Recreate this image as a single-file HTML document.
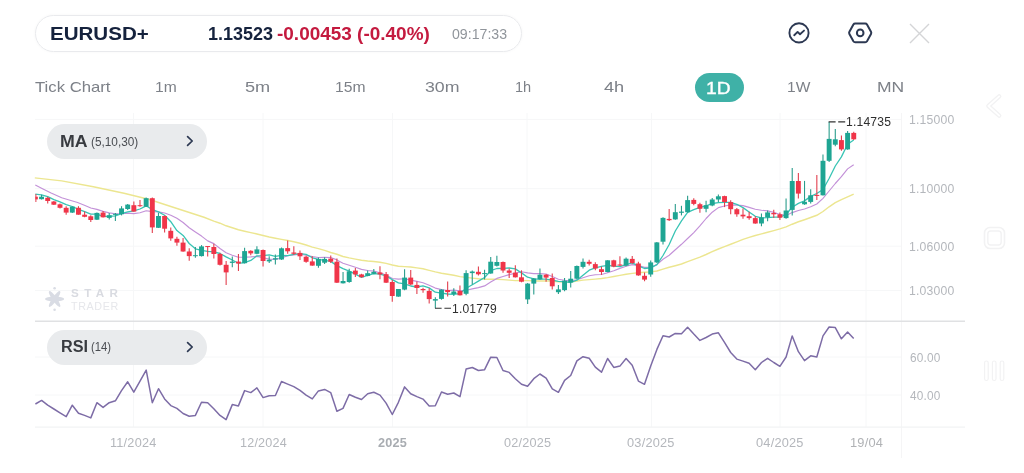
<!DOCTYPE html>
<html><head><meta charset="utf-8"><title>EURUSD+</title>
<style>
html,body{margin:0;padding:0;background:#fff;}
body{width:1024px;height:473px;position:relative;overflow:hidden;font-family:"Liberation Sans",sans-serif;}
.t{position:absolute;white-space:nowrap;line-height:1;transform-origin:0 50%;}
#txt{position:absolute;left:0;top:0;width:1024px;height:473px;will-change:transform;}
.pill{position:absolute;left:35px;top:15px;width:485px;height:35px;border:1px solid #e9eaed;border-radius:19px;box-shadow:0 0 3px rgba(0,0,0,0.045);}
.ind{position:absolute;left:47px;width:160px;height:35px;border-radius:18px;background:#e9ebed;}
.tf{color:#7d8188;font-size:14.5px;}
.ax{color:#b4b7bc;font-size:12px;letter-spacing:0.2px;}
#chart{position:absolute;left:0;top:0;}
</style></head><body>
<svg id="chart" width="1024" height="473" viewBox="0 0 1024 473">
<line x1="35" x2="901.5" y1="119.4" y2="119.4" stroke="#f6f7f8" stroke-width="1"/>
<line x1="35" x2="901.5" y1="188.7" y2="188.7" stroke="#f6f7f8" stroke-width="1"/>
<line x1="35" x2="901.5" y1="246.2" y2="246.2" stroke="#f6f7f8" stroke-width="1"/>
<line x1="35" x2="901.5" y1="290.5" y2="290.5" stroke="#f6f7f8" stroke-width="1"/>
<line x1="35" x2="901.5" y1="357" y2="357" stroke="#f6f7f8" stroke-width="1"/>
<line x1="35" x2="901.5" y1="395" y2="395" stroke="#f6f7f8" stroke-width="1"/>
<line x1="133.5" x2="133.5" y1="113" y2="427" stroke="#f6f7f8" stroke-width="1"/>
<line x1="263" x2="263" y1="113" y2="427" stroke="#f6f7f8" stroke-width="1"/>
<line x1="392.5" x2="392.5" y1="113" y2="427" stroke="#f6f7f8" stroke-width="1"/>
<line x1="527" x2="527" y1="113" y2="427" stroke="#f6f7f8" stroke-width="1"/>
<line x1="651.5" x2="651.5" y1="113" y2="427" stroke="#f6f7f8" stroke-width="1"/>
<line x1="780" x2="780" y1="113" y2="427" stroke="#f6f7f8" stroke-width="1"/>
<line x1="866" x2="866" y1="113" y2="427" stroke="#f6f7f8" stroke-width="1"/>
<line x1="901.5" x2="901.5" y1="113" y2="458" stroke="#f5f5f6" stroke-width="1"/>
<line x1="35" x2="965" y1="427.2" y2="427.2" stroke="#f2f3f4" stroke-width="1.2"/>
<line x1="35" x2="965" y1="321.2" y2="321.2" stroke="#e0e1e3" stroke-width="1.6"/>
<polyline fill="none" stroke="#ece690" stroke-width="1.45" stroke-linejoin="round" points="34.8,177.9 61.7,180.9 93.4,186.7 124.0,193.2 149.4,199.5 174.7,207.7 204.0,217.3 213.8,221.1 220.0,223.2 226.1,225.8 232.3,227.8 238.4,229.8 244.6,231.2 250.8,232.6 256.9,234.0 263.1,235.5 269.2,237.0 275.4,238.2 281.5,239.4 287.7,240.5 293.8,241.8 300.0,243.2 306.1,245.0 312.3,247.1 318.4,248.6 324.6,250.4 330.7,252.5 336.9,254.3 343.0,256.5 349.2,257.9 355.4,259.1 361.5,260.3 367.7,261.0 373.8,261.5 380.0,262.2 386.1,263.4 392.3,265.0 398.4,266.2 404.6,266.6 410.7,267.0 416.9,267.9 423.0,268.8 429.2,270.4 435.3,271.9 441.5,273.2 447.7,274.3 453.8,275.3 460.0,276.6 466.1,277.4 472.3,278.1 478.4,278.8 484.6,279.3 490.7,279.3 496.9,279.2 503.0,279.6 509.2,280.1 515.3,280.6 521.5,280.5 527.6,280.6 533.8,280.9 539.9,280.9 546.1,280.9 552.3,281.3 558.4,281.9 564.6,282.1 570.7,282.0 576.9,281.0 583.0,280.1 589.2,279.6 595.3,279.1 601.5,278.5 607.6,277.6 613.8,276.5 619.9,275.4 626.1,274.3 632.2,273.4 638.4,272.8 644.5,272.3 650.7,271.9 656.9,271.0 663.0,269.1 669.2,267.3 675.3,265.7 681.5,264.0 687.6,261.6 693.8,259.4 699.9,257.1 706.1,254.5 712.2,251.7 718.4,249.0 724.5,246.6 730.7,244.3 736.8,241.9 743.0,239.4 749.1,237.4 755.3,235.5 761.5,233.9 767.6,232.2 773.8,230.6 779.9,228.9 786.1,226.9 792.2,224.2 798.4,221.8 804.5,219.7 810.7,217.5 816.8,215.3 823.0,211.5 829.1,206.8 835.3,202.7 841.4,199.6 847.6,196.8 853.7,194.1"/>
<polyline fill="none" stroke="#c391d8" stroke-width="1.15" stroke-linejoin="round" points="35.3,185.1 43.0,189.0 51.1,193.0 61.7,197.8 70.0,200.3 77.6,202.5 85.0,205.5 90.8,208.0 96.9,209.4 103.1,211.4 109.2,212.9 115.4,213.8 121.5,213.8 127.7,213.1 133.8,213.6 140.0,212.7 146.2,210.8 152.3,211.6 158.5,211.9 164.6,213.0 170.8,215.3 176.9,218.2 183.1,222.5 189.2,227.7 195.4,232.0 201.5,236.1 207.7,240.9 213.8,243.6 220.0,248.5 226.1,252.8 232.3,255.2 238.4,257.3 244.6,257.2 250.8,256.9 256.9,256.4 263.1,257.8 269.2,259.1 275.4,259.5 281.5,257.9 287.7,255.8 293.8,255.0 300.0,254.3 306.1,255.3 312.3,256.6 318.4,257.5 324.6,257.3 330.7,257.5 336.9,259.9 343.0,263.2 349.2,265.2 355.4,267.3 361.5,269.4 367.7,270.5 373.8,271.1 380.0,272.7 386.1,275.1 392.3,278.5 398.4,279.1 404.6,278.8 410.7,280.1 416.9,281.4 423.0,282.8 429.2,285.3 435.3,288.1 441.5,289.6 447.7,290.5 453.8,290.1 460.0,290.7 466.1,290.2 472.3,288.9 478.4,287.6 484.6,285.9 490.7,282.1 496.9,278.4 503.0,276.5 509.2,274.6 515.3,273.2 521.5,271.8 527.6,272.9 533.8,273.6 539.9,273.6 546.1,274.0 552.3,276.5 558.4,279.2 564.6,280.2 570.7,280.8 576.9,279.7 583.0,277.7 589.2,275.7 595.3,274.7 601.5,274.5 607.6,272.7 613.8,270.8 619.9,268.4 626.1,266.2 632.2,264.6 638.4,265.6 644.5,267.4 650.7,267.2 656.9,264.6 663.0,259.2 669.2,255.2 675.3,249.8 681.5,244.3 687.6,238.5 693.8,232.6 699.9,225.9 706.1,218.5 712.2,212.2 718.4,207.6 724.5,206.0 730.7,204.9 736.8,205.1 743.0,205.6 749.1,207.4 755.3,209.3 761.5,210.2 767.6,210.9 773.8,212.4 779.9,214.5 786.1,215.4 792.2,212.6 798.4,210.5 804.5,209.0 810.7,206.8 816.8,204.0 823.0,198.3 829.1,191.0 835.3,183.5 841.4,176.7 847.6,168.9 853.7,164.7"/>
<polyline fill="none" stroke="#38c4b4" stroke-width="1.3" stroke-linejoin="round" points="35.3,194.1 41.5,194.8 47.7,196.6 53.9,199.6 60.0,201.9 66.2,204.6 72.3,206.5 78.5,209.3 84.6,211.7 90.8,214.1 96.9,214.2 103.1,216.3 109.2,216.4 115.4,215.9 121.5,213.6 127.7,211.9 133.8,210.8 140.0,209.0 146.2,205.8 152.3,209.6 158.5,211.9 164.6,215.3 170.8,221.7 176.9,230.6 183.1,235.4 189.2,243.5 195.4,248.8 201.5,250.4 207.7,251.3 213.8,251.8 220.0,253.5 226.1,256.9 232.3,260.0 238.4,263.3 244.6,262.7 250.8,260.4 256.9,255.8 263.1,255.7 269.2,254.9 275.4,256.4 281.5,255.3 287.7,255.7 293.8,254.3 300.0,253.6 306.1,254.3 312.3,257.8 318.4,259.3 324.6,260.3 330.7,261.4 336.9,265.6 343.0,268.6 349.2,271.1 355.4,274.2 361.5,277.3 367.7,275.4 373.8,273.6 380.0,274.2 386.1,275.9 392.3,279.6 398.4,282.8 404.6,283.9 410.7,286.0 416.9,287.0 423.0,285.9 429.2,287.9 435.3,292.2 441.5,293.2 447.7,294.0 453.8,294.3 460.0,293.5 466.1,288.3 472.3,284.7 478.4,281.1 484.6,277.5 490.7,270.7 496.9,268.5 503.0,268.3 509.2,268.0 515.3,268.9 521.5,272.9 527.6,277.2 533.8,278.8 539.9,279.2 546.1,279.2 552.3,280.1 558.4,281.3 564.6,281.7 570.7,282.5 576.9,280.2 583.0,275.3 589.2,270.2 595.3,267.8 601.5,266.4 607.6,265.3 613.8,266.2 619.9,266.6 626.1,264.6 632.2,262.9 638.4,265.9 644.5,268.5 650.7,267.8 656.9,264.6 663.0,255.5 669.2,244.5 675.3,231.0 681.5,220.9 687.6,212.4 693.8,209.6 699.9,207.3 706.1,205.9 712.2,203.5 718.4,202.7 724.5,202.4 730.7,202.4 736.8,204.3 743.0,207.6 749.1,212.0 755.3,216.3 761.5,217.9 767.6,217.6 773.8,217.1 779.9,217.1 786.1,214.5 792.2,207.2 798.4,203.4 804.5,200.9 810.7,196.4 816.8,193.5 823.0,189.5 829.1,178.5 835.3,166.0 841.4,156.9 847.6,144.3 853.7,140.0"/>
<line x1="35.90" x2="35.90" y1="194.1" y2="202.0" stroke="#e2404f" stroke-width="1"/>
<rect x="35.40" y="196.7" width="2.45" height="2.70" fill="#f03549"/>
<line x1="41.55" x2="41.55" y1="194.8" y2="199.4" stroke="#2a9d8c" stroke-width="1.1"/>
<rect x="39.10" y="196.7" width="4.9" height="2.50" fill="#1ea593"/>
<line x1="47.71" x2="47.71" y1="196.7" y2="203.6" stroke="#e2404f" stroke-width="1.1"/>
<rect x="45.26" y="197.8" width="4.9" height="3.20" fill="#f03549"/>
<line x1="53.86" x2="53.86" y1="201.0" y2="204.9" stroke="#e2404f" stroke-width="1.1"/>
<rect x="51.41" y="201.5" width="4.9" height="3.20" fill="#f03549"/>
<line x1="60.01" x2="60.01" y1="203.6" y2="208.4" stroke="#e2404f" stroke-width="1.1"/>
<rect x="57.56" y="204.3" width="4.9" height="3.50" fill="#f03549"/>
<line x1="66.16" x2="66.16" y1="206.2" y2="214.7" stroke="#e2404f" stroke-width="1.1"/>
<rect x="63.71" y="207.8" width="4.9" height="4.80" fill="#f03549"/>
<line x1="72.32" x2="72.32" y1="206.6" y2="212.9" stroke="#2a9d8c" stroke-width="1.1"/>
<rect x="69.87" y="206.6" width="4.9" height="6.00" fill="#1ea593"/>
<line x1="78.47" x2="78.47" y1="206.2" y2="214.7" stroke="#e2404f" stroke-width="1.1"/>
<rect x="76.02" y="207.8" width="4.9" height="6.90" fill="#f03549"/>
<line x1="84.62" x2="84.62" y1="211.5" y2="217.3" stroke="#e2404f" stroke-width="1.1"/>
<rect x="82.17" y="214.7" width="4.9" height="2.10" fill="#f03549"/>
<line x1="90.78" x2="90.78" y1="215.2" y2="222.1" stroke="#e2404f" stroke-width="1.1"/>
<rect x="88.33" y="216.3" width="4.9" height="3.70" fill="#f03549"/>
<line x1="96.93" x2="96.93" y1="212.6" y2="220.0" stroke="#2a9d8c" stroke-width="1.1"/>
<rect x="94.48" y="212.9" width="4.9" height="6.80" fill="#1ea593"/>
<line x1="103.08" x2="103.08" y1="211.0" y2="217.5" stroke="#e2404f" stroke-width="1.1"/>
<rect x="100.63" y="212.6" width="4.9" height="4.70" fill="#f03549"/>
<line x1="109.24" x2="109.24" y1="213.1" y2="219.5" stroke="#2a9d8c" stroke-width="1.1"/>
<rect x="106.79" y="215.2" width="4.9" height="2.70" fill="#1ea593"/>
<line x1="115.39" x2="115.39" y1="213.1" y2="221.0" stroke="#2a9d8c" stroke-width="1.1"/>
<rect x="112.94" y="213.85" width="4.9" height="1.00" fill="#1ea593"/>
<line x1="121.54" x2="121.54" y1="206.2" y2="215.4" stroke="#2a9d8c" stroke-width="1.1"/>
<rect x="119.09" y="208.4" width="4.9" height="5.80" fill="#1ea593"/>
<line x1="127.69" x2="127.69" y1="204.0" y2="210.0" stroke="#2a9d8c" stroke-width="1.1"/>
<rect x="125.24" y="204.6" width="4.9" height="4.40" fill="#1ea593"/>
<line x1="133.85" x2="133.85" y1="201.4" y2="211.8" stroke="#e2404f" stroke-width="1.1"/>
<rect x="131.40" y="205.2" width="4.9" height="6.40" fill="#f03549"/>
<line x1="140.00" x2="140.00" y1="200.1" y2="206.7" stroke="#e2404f" stroke-width="1.1"/>
<rect x="137.55" y="205.2" width="4.9" height="1.00" fill="#f03549"/>
<line x1="146.15" x2="146.15" y1="197.4" y2="207.1" stroke="#2a9d8c" stroke-width="1.1"/>
<rect x="143.70" y="198.2" width="4.9" height="8.50" fill="#1ea593"/>
<line x1="152.31" x2="152.31" y1="197.4" y2="233.1" stroke="#e2404f" stroke-width="1.1"/>
<rect x="149.86" y="198.2" width="4.9" height="29.20" fill="#f03549"/>
<line x1="158.46" x2="158.46" y1="212.8" y2="228.0" stroke="#2a9d8c" stroke-width="1.1"/>
<rect x="156.01" y="216.0" width="4.9" height="11.80" fill="#1ea593"/>
<line x1="164.61" x2="164.61" y1="215.4" y2="232.5" stroke="#e2404f" stroke-width="1.1"/>
<rect x="162.16" y="216.0" width="4.9" height="12.70" fill="#f03549"/>
<line x1="170.77" x2="170.77" y1="227.4" y2="240.7" stroke="#e2404f" stroke-width="1.1"/>
<rect x="168.32" y="230.8" width="4.9" height="7.60" fill="#f03549"/>
<line x1="176.92" x2="176.92" y1="236.7" y2="245.8" stroke="#e2404f" stroke-width="1.1"/>
<rect x="174.47" y="238.8" width="4.9" height="3.80" fill="#f03549"/>
<line x1="183.07" x2="183.07" y1="238.1" y2="251.8" stroke="#e2404f" stroke-width="1.1"/>
<rect x="180.62" y="242.6" width="4.9" height="8.90" fill="#f03549"/>
<line x1="189.22" x2="189.22" y1="248.3" y2="260.7" stroke="#e2404f" stroke-width="1.1"/>
<rect x="186.78" y="251.5" width="4.9" height="4.60" fill="#f03549"/>
<line x1="195.38" x2="195.38" y1="247.0" y2="257.8" stroke="#2a9d8c" stroke-width="1.1"/>
<rect x="192.93" y="255.20000000000002" width="4.9" height="1.00" fill="#1ea593"/>
<line x1="201.53" x2="201.53" y1="245.1" y2="256.5" stroke="#2a9d8c" stroke-width="1.1"/>
<rect x="199.08" y="246.4" width="4.9" height="9.70" fill="#1ea593"/>
<line x1="207.68" x2="207.68" y1="246.1" y2="256.5" stroke="#e2404f" stroke-width="1.1"/>
<rect x="205.23" y="246.05" width="4.9" height="1.00" fill="#f03549"/>
<line x1="213.84" x2="213.84" y1="243.8" y2="258.4" stroke="#e2404f" stroke-width="1.1"/>
<rect x="211.39" y="247.0" width="4.9" height="7.00" fill="#f03549"/>
<line x1="219.99" x2="219.99" y1="252.7" y2="265.4" stroke="#e2404f" stroke-width="1.1"/>
<rect x="217.54" y="254.0" width="4.9" height="10.80" fill="#f03549"/>
<line x1="226.14" x2="226.14" y1="261.0" y2="285.0" stroke="#e2404f" stroke-width="1.1"/>
<rect x="223.69" y="264.8" width="4.9" height="7.60" fill="#f03549"/>
<line x1="232.30" x2="232.30" y1="256.5" y2="267.3" stroke="#2a9d8c" stroke-width="1.1"/>
<rect x="229.85" y="261.6" width="4.9" height="1.30" fill="#1ea593"/>
<line x1="238.45" x2="238.45" y1="254.0" y2="271.1" stroke="#e2404f" stroke-width="1.1"/>
<rect x="236.00" y="261.6" width="4.9" height="1.90" fill="#f03549"/>
<line x1="244.60" x2="244.60" y1="247.7" y2="263.5" stroke="#2a9d8c" stroke-width="1.1"/>
<rect x="242.15" y="251.1" width="4.9" height="12.10" fill="#1ea593"/>
<line x1="250.75" x2="250.75" y1="250.2" y2="255.3" stroke="#e2404f" stroke-width="1.1"/>
<rect x="248.31" y="250.8" width="4.9" height="2.60" fill="#f03549"/>
<line x1="256.91" x2="256.91" y1="246.2" y2="254.2" stroke="#2a9d8c" stroke-width="1.1"/>
<rect x="254.46" y="249.4" width="4.9" height="4.40" fill="#1ea593"/>
<line x1="263.06" x2="263.06" y1="249.4" y2="266.5" stroke="#e2404f" stroke-width="1.1"/>
<rect x="260.61" y="250.0" width="4.9" height="11.00" fill="#f03549"/>
<line x1="269.21" x2="269.21" y1="256.3" y2="263.0" stroke="#2a9d8c" stroke-width="1.1"/>
<rect x="266.76" y="259.8" width="4.9" height="1.60" fill="#1ea593"/>
<line x1="275.37" x2="275.37" y1="254.4" y2="264.6" stroke="#2a9d8c" stroke-width="1.1"/>
<rect x="272.92" y="258.2" width="4.9" height="1.30" fill="#1ea593"/>
<line x1="281.52" x2="281.52" y1="247.5" y2="259.9" stroke="#2a9d8c" stroke-width="1.1"/>
<rect x="279.07" y="248.3" width="4.9" height="11.20" fill="#1ea593"/>
<line x1="287.67" x2="287.67" y1="240.5" y2="253.8" stroke="#e2404f" stroke-width="1.1"/>
<rect x="285.22" y="248.1" width="4.9" height="3.20" fill="#f03549"/>
<line x1="293.83" x2="293.83" y1="246.2" y2="255.1" stroke="#e2404f" stroke-width="1.1"/>
<rect x="291.38" y="252.5" width="4.9" height="1.30" fill="#f03549"/>
<line x1="299.98" x2="299.98" y1="250.6" y2="260.1" stroke="#e2404f" stroke-width="1.1"/>
<rect x="297.53" y="252.9" width="4.9" height="3.40" fill="#f03549"/>
<line x1="306.13" x2="306.13" y1="255.7" y2="262.7" stroke="#e2404f" stroke-width="1.1"/>
<rect x="303.68" y="256.7" width="4.9" height="5.10" fill="#f03549"/>
<line x1="312.28" x2="312.28" y1="256.3" y2="265.8" stroke="#e2404f" stroke-width="1.1"/>
<rect x="309.83" y="261.4" width="4.9" height="4.20" fill="#f03549"/>
<line x1="318.44" x2="318.44" y1="257.6" y2="267.7" stroke="#2a9d8c" stroke-width="1.1"/>
<rect x="315.99" y="258.9" width="4.9" height="6.90" fill="#1ea593"/>
<line x1="324.59" x2="324.59" y1="257.2" y2="263.9" stroke="#2a9d8c" stroke-width="1.1"/>
<rect x="322.14" y="258.9" width="4.9" height="3.80" fill="#1ea593"/>
<line x1="330.74" x2="330.74" y1="255.4" y2="263.0" stroke="#e2404f" stroke-width="1.1"/>
<rect x="328.29" y="258.6" width="4.9" height="3.10" fill="#f03549"/>
<line x1="336.90" x2="336.90" y1="258.6" y2="283.0" stroke="#e2404f" stroke-width="1.1"/>
<rect x="334.45" y="261.7" width="4.9" height="21.00" fill="#f03549"/>
<line x1="343.05" x2="343.05" y1="271.9" y2="283.5" stroke="#2a9d8c" stroke-width="1.1"/>
<rect x="340.60" y="281.0" width="4.9" height="2.30" fill="#1ea593"/>
<line x1="349.20" x2="349.20" y1="268.7" y2="282.7" stroke="#2a9d8c" stroke-width="1.1"/>
<rect x="346.75" y="271.3" width="4.9" height="10.70" fill="#1ea593"/>
<line x1="355.36" x2="355.36" y1="268.1" y2="277.0" stroke="#e2404f" stroke-width="1.1"/>
<rect x="352.91" y="270.6" width="4.9" height="3.80" fill="#f03549"/>
<line x1="361.51" x2="361.51" y1="273.8" y2="277.6" stroke="#e2404f" stroke-width="1.1"/>
<rect x="359.06" y="274.4" width="4.9" height="2.80" fill="#f03549"/>
<line x1="367.66" x2="367.66" y1="270.6" y2="276.3" stroke="#2a9d8c" stroke-width="1.1"/>
<rect x="365.21" y="273.2" width="4.9" height="2.70" fill="#1ea593"/>
<line x1="373.81" x2="373.81" y1="269.1" y2="274.2" stroke="#2a9d8c" stroke-width="1.1"/>
<rect x="371.36" y="271.9" width="4.9" height="1.90" fill="#1ea593"/>
<line x1="379.97" x2="379.97" y1="266.2" y2="279.2" stroke="#e2404f" stroke-width="1.1"/>
<rect x="377.52" y="272.5" width="4.9" height="1.90" fill="#f03549"/>
<line x1="386.12" x2="386.12" y1="271.9" y2="283.0" stroke="#e2404f" stroke-width="1.1"/>
<rect x="383.67" y="274.2" width="4.9" height="8.50" fill="#f03549"/>
<line x1="392.27" x2="392.27" y1="280.1" y2="301.7" stroke="#e2404f" stroke-width="1.1"/>
<rect x="389.82" y="282.0" width="4.9" height="14.00" fill="#f03549"/>
<line x1="398.43" x2="398.43" y1="289.0" y2="296.8" stroke="#2a9d8c" stroke-width="1.1"/>
<rect x="395.98" y="289.0" width="4.9" height="7.60" fill="#1ea593"/>
<line x1="404.58" x2="404.58" y1="269.3" y2="290.2" stroke="#2a9d8c" stroke-width="1.1"/>
<rect x="402.13" y="277.6" width="4.9" height="12.00" fill="#1ea593"/>
<line x1="410.73" x2="410.73" y1="270.0" y2="285.2" stroke="#e2404f" stroke-width="1.1"/>
<rect x="408.28" y="277.6" width="4.9" height="6.90" fill="#f03549"/>
<line x1="416.89" x2="416.89" y1="281.4" y2="294.0" stroke="#e2404f" stroke-width="1.1"/>
<rect x="414.44" y="284.9" width="4.9" height="3.10" fill="#f03549"/>
<line x1="423.04" x2="423.04" y1="287.7" y2="292.8" stroke="#e2404f" stroke-width="1.1"/>
<rect x="420.59" y="289.0" width="4.9" height="1.20" fill="#f03549"/>
<line x1="429.19" x2="429.19" y1="288.3" y2="303.5" stroke="#e2404f" stroke-width="1.1"/>
<rect x="426.74" y="290.9" width="4.9" height="8.20" fill="#f03549"/>
<line x1="435.34" x2="435.34" y1="297.2" y2="308.2" stroke="#2a9d8c" stroke-width="1.1"/>
<rect x="432.89" y="299.1" width="4.9" height="1.50" fill="#1ea593"/>
<line x1="441.50" x2="441.50" y1="289.2" y2="299.7" stroke="#2a9d8c" stroke-width="1.1"/>
<rect x="439.05" y="289.6" width="4.9" height="9.30" fill="#1ea593"/>
<line x1="447.65" x2="447.65" y1="281.4" y2="296.6" stroke="#e2404f" stroke-width="1.1"/>
<rect x="445.20" y="290.0" width="4.9" height="2.10" fill="#f03549"/>
<line x1="453.80" x2="453.80" y1="288.3" y2="295.9" stroke="#2a9d8c" stroke-width="1.1"/>
<rect x="451.35" y="291.5" width="4.9" height="2.50" fill="#1ea593"/>
<line x1="459.96" x2="459.96" y1="285.4" y2="295.6" stroke="#e2404f" stroke-width="1.1"/>
<rect x="457.51" y="290.9" width="4.9" height="4.40" fill="#f03549"/>
<line x1="466.11" x2="466.11" y1="270.2" y2="295.3" stroke="#2a9d8c" stroke-width="1.1"/>
<rect x="463.66" y="273.1" width="4.9" height="20.70" fill="#1ea593"/>
<line x1="472.26" x2="472.26" y1="270.6" y2="284.5" stroke="#2a9d8c" stroke-width="1.1"/>
<rect x="469.81" y="271.5" width="4.9" height="1.60" fill="#1ea593"/>
<line x1="478.42" x2="478.42" y1="266.5" y2="275.4" stroke="#e2404f" stroke-width="1.1"/>
<rect x="475.97" y="271.8" width="4.9" height="2.50" fill="#f03549"/>
<line x1="484.57" x2="484.57" y1="269.7" y2="279.4" stroke="#2a9d8c" stroke-width="1.1"/>
<rect x="482.12" y="273.1" width="4.9" height="1.00" fill="#1ea593"/>
<line x1="490.72" x2="490.72" y1="257.0" y2="273.8" stroke="#2a9d8c" stroke-width="1.1"/>
<rect x="488.27" y="261.7" width="4.9" height="11.80" fill="#1ea593"/>
<line x1="496.87" x2="496.87" y1="255.7" y2="266.5" stroke="#2a9d8c" stroke-width="1.1"/>
<rect x="494.42" y="262.0" width="4.9" height="3.80" fill="#1ea593"/>
<line x1="503.03" x2="503.03" y1="261.4" y2="272.8" stroke="#e2404f" stroke-width="1.1"/>
<rect x="500.58" y="262.0" width="4.9" height="8.50" fill="#f03549"/>
<line x1="509.18" x2="509.18" y1="268.4" y2="277.9" stroke="#e2404f" stroke-width="1.1"/>
<rect x="506.73" y="270.5" width="4.9" height="2.30" fill="#f03549"/>
<line x1="515.33" x2="515.33" y1="265.2" y2="277.6" stroke="#e2404f" stroke-width="1.1"/>
<rect x="512.88" y="272.6" width="4.9" height="4.70" fill="#f03549"/>
<line x1="521.49" x2="521.49" y1="270.3" y2="282.3" stroke="#e2404f" stroke-width="1.1"/>
<rect x="519.04" y="277.3" width="4.9" height="4.40" fill="#f03549"/>
<line x1="527.64" x2="527.64" y1="283.0" y2="303.9" stroke="#2a9d8c" stroke-width="1.1"/>
<rect x="525.19" y="283.6" width="4.9" height="15.80" fill="#1ea593"/>
<line x1="533.79" x2="533.79" y1="277.9" y2="294.4" stroke="#2a9d8c" stroke-width="1.1"/>
<rect x="531.34" y="278.5" width="4.9" height="5.10" fill="#1ea593"/>
<line x1="539.95" x2="539.95" y1="268.4" y2="279.8" stroke="#2a9d8c" stroke-width="1.1"/>
<rect x="537.50" y="274.7" width="4.9" height="4.70" fill="#1ea593"/>
<line x1="546.10" x2="546.10" y1="274.1" y2="281.7" stroke="#e2404f" stroke-width="1.1"/>
<rect x="543.65" y="274.7" width="4.9" height="2.90" fill="#f03549"/>
<line x1="552.25" x2="552.25" y1="273.6" y2="289.4" stroke="#e2404f" stroke-width="1.1"/>
<rect x="549.80" y="278.0" width="4.9" height="8.30" fill="#f03549"/>
<line x1="558.40" x2="558.40" y1="285.0" y2="293.9" stroke="#2a9d8c" stroke-width="1.1"/>
<rect x="555.95" y="289.4" width="4.9" height="2.80" fill="#1ea593"/>
<line x1="564.56" x2="564.56" y1="278.0" y2="291.3" stroke="#2a9d8c" stroke-width="1.1"/>
<rect x="562.11" y="280.6" width="4.9" height="9.50" fill="#1ea593"/>
<line x1="570.71" x2="570.71" y1="271.1" y2="287.5" stroke="#2a9d8c" stroke-width="1.1"/>
<rect x="568.26" y="278.7" width="4.9" height="3.80" fill="#1ea593"/>
<line x1="576.86" x2="576.86" y1="265.4" y2="279.3" stroke="#2a9d8c" stroke-width="1.1"/>
<rect x="574.41" y="266.0" width="4.9" height="12.70" fill="#1ea593"/>
<line x1="583.02" x2="583.02" y1="258.4" y2="268.5" stroke="#2a9d8c" stroke-width="1.1"/>
<rect x="580.57" y="261.8" width="4.9" height="5.10" fill="#1ea593"/>
<line x1="589.17" x2="589.17" y1="259.7" y2="265.4" stroke="#e2404f" stroke-width="1.1"/>
<rect x="586.72" y="261.8" width="4.9" height="2.00" fill="#f03549"/>
<line x1="595.32" x2="595.32" y1="262.2" y2="270.2" stroke="#e2404f" stroke-width="1.1"/>
<rect x="592.87" y="264.1" width="4.9" height="4.40" fill="#f03549"/>
<line x1="601.48" x2="601.48" y1="266.6" y2="274.9" stroke="#e2404f" stroke-width="1.1"/>
<rect x="599.03" y="269.2" width="4.9" height="2.80" fill="#f03549"/>
<line x1="607.63" x2="607.63" y1="260.3" y2="272.3" stroke="#2a9d8c" stroke-width="1.1"/>
<rect x="605.18" y="260.3" width="4.9" height="11.70" fill="#1ea593"/>
<line x1="613.78" x2="613.78" y1="259.7" y2="267.3" stroke="#e2404f" stroke-width="1.1"/>
<rect x="611.33" y="260.3" width="4.9" height="6.30" fill="#f03549"/>
<line x1="619.93" x2="619.93" y1="256.2" y2="266.0" stroke="#e2404f" stroke-width="1.1"/>
<rect x="617.48" y="264.5" width="4.9" height="1.10" fill="#f03549"/>
<line x1="626.09" x2="626.09" y1="257.4" y2="266.3" stroke="#2a9d8c" stroke-width="1.1"/>
<rect x="623.64" y="258.7" width="4.9" height="7.00" fill="#1ea593"/>
<line x1="632.24" x2="632.24" y1="256.1" y2="263.7" stroke="#e2404f" stroke-width="1.1"/>
<rect x="629.79" y="258.9" width="4.9" height="4.20" fill="#f03549"/>
<line x1="638.39" x2="638.39" y1="261.8" y2="275.8" stroke="#e2404f" stroke-width="1.1"/>
<rect x="635.94" y="263.5" width="4.9" height="11.90" fill="#f03549"/>
<line x1="644.55" x2="644.55" y1="272.6" y2="281.2" stroke="#e2404f" stroke-width="1.1"/>
<rect x="642.10" y="275.8" width="4.9" height="3.80" fill="#f03549"/>
<line x1="650.70" x2="650.70" y1="260.5" y2="276.7" stroke="#2a9d8c" stroke-width="1.1"/>
<rect x="648.25" y="262.4" width="4.9" height="12.10" fill="#1ea593"/>
<line x1="656.85" x2="656.85" y1="242.1" y2="263.1" stroke="#2a9d8c" stroke-width="1.1"/>
<rect x="654.40" y="242.4" width="4.9" height="20.00" fill="#1ea593"/>
<line x1="663.01" x2="663.01" y1="217.3" y2="244.5" stroke="#2a9d8c" stroke-width="1.1"/>
<rect x="660.56" y="217.9" width="4.9" height="23.80" fill="#1ea593"/>
<line x1="669.16" x2="669.16" y1="209.0" y2="221.1" stroke="#e2404f" stroke-width="1.1"/>
<rect x="666.71" y="218.9" width="4.9" height="1.30" fill="#f03549"/>
<line x1="675.31" x2="675.31" y1="203.9" y2="219.8" stroke="#2a9d8c" stroke-width="1.1"/>
<rect x="672.86" y="212.2" width="4.9" height="7.20" fill="#1ea593"/>
<line x1="681.46" x2="681.46" y1="205.8" y2="215.4" stroke="#2a9d8c" stroke-width="1.1"/>
<rect x="679.01" y="211.6" width="4.9" height="1.20" fill="#1ea593"/>
<line x1="687.62" x2="687.62" y1="195.7" y2="212.8" stroke="#2a9d8c" stroke-width="1.1"/>
<rect x="685.17" y="200.1" width="4.9" height="12.10" fill="#1ea593"/>
<line x1="693.77" x2="693.77" y1="198.2" y2="205.2" stroke="#e2404f" stroke-width="1.1"/>
<rect x="691.32" y="199.9" width="4.9" height="4.00" fill="#f03549"/>
<line x1="699.92" x2="699.92" y1="202.7" y2="212.8" stroke="#e2404f" stroke-width="1.1"/>
<rect x="697.47" y="204.2" width="4.9" height="4.60" fill="#f03549"/>
<line x1="706.08" x2="706.08" y1="200.8" y2="212.2" stroke="#2a9d8c" stroke-width="1.1"/>
<rect x="703.63" y="205.2" width="4.9" height="3.60" fill="#1ea593"/>
<line x1="712.23" x2="712.23" y1="197.9" y2="206.2" stroke="#2a9d8c" stroke-width="1.1"/>
<rect x="709.78" y="199.5" width="4.9" height="6.00" fill="#1ea593"/>
<line x1="718.38" x2="718.38" y1="194.4" y2="202.0" stroke="#2a9d8c" stroke-width="1.1"/>
<rect x="715.93" y="196.3" width="4.9" height="3.20" fill="#1ea593"/>
<line x1="724.54" x2="724.54" y1="195.7" y2="207.1" stroke="#e2404f" stroke-width="1.1"/>
<rect x="722.09" y="196.1" width="4.9" height="5.90" fill="#f03549"/>
<line x1="730.69" x2="730.69" y1="200.2" y2="214.2" stroke="#e2404f" stroke-width="1.1"/>
<rect x="728.24" y="202.1" width="4.9" height="7.10" fill="#f03549"/>
<line x1="736.84" x2="736.84" y1="207.9" y2="216.8" stroke="#e2404f" stroke-width="1.1"/>
<rect x="734.39" y="209.2" width="4.9" height="5.10" fill="#f03549"/>
<line x1="742.99" x2="742.99" y1="208.6" y2="218.7" stroke="#e2404f" stroke-width="1.1"/>
<rect x="740.54" y="214.7" width="4.9" height="1.70" fill="#f03549"/>
<line x1="749.15" x2="749.15" y1="211.7" y2="219.7" stroke="#e2404f" stroke-width="1.1"/>
<rect x="746.70" y="216.2" width="4.9" height="1.90" fill="#f03549"/>
<line x1="755.30" x2="755.30" y1="216.2" y2="223.8" stroke="#e2404f" stroke-width="1.1"/>
<rect x="752.85" y="218.1" width="4.9" height="5.40" fill="#f03549"/>
<line x1="761.45" x2="761.45" y1="213.6" y2="226.3" stroke="#2a9d8c" stroke-width="1.1"/>
<rect x="759.00" y="217.4" width="4.9" height="6.10" fill="#1ea593"/>
<line x1="767.61" x2="767.61" y1="210.5" y2="221.2" stroke="#2a9d8c" stroke-width="1.1"/>
<rect x="765.16" y="212.4" width="4.9" height="5.00" fill="#1ea593"/>
<line x1="773.76" x2="773.76" y1="209.8" y2="218.1" stroke="#e2404f" stroke-width="1.1"/>
<rect x="771.31" y="213.0" width="4.9" height="1.30" fill="#f03549"/>
<line x1="779.91" x2="779.91" y1="212.4" y2="220.0" stroke="#e2404f" stroke-width="1.1"/>
<rect x="777.46" y="214.3" width="4.9" height="3.40" fill="#f03549"/>
<line x1="786.07" x2="786.07" y1="198.4" y2="218.7" stroke="#2a9d8c" stroke-width="1.1"/>
<rect x="783.62" y="210.5" width="4.9" height="7.60" fill="#1ea593"/>
<line x1="792.22" x2="792.22" y1="168.0" y2="215.6" stroke="#2a9d8c" stroke-width="1.1"/>
<rect x="789.77" y="181.0" width="4.9" height="28.90" fill="#1ea593"/>
<line x1="798.37" x2="798.37" y1="173.1" y2="198.5" stroke="#e2404f" stroke-width="1.1"/>
<rect x="795.92" y="181.0" width="4.9" height="12.60" fill="#f03549"/>
<line x1="804.52" x2="804.52" y1="180.9" y2="204.8" stroke="#2a9d8c" stroke-width="1.1"/>
<rect x="802.07" y="201.8" width="4.9" height="2.50" fill="#1ea593"/>
<line x1="810.68" x2="810.68" y1="189.2" y2="203.5" stroke="#2a9d8c" stroke-width="1.1"/>
<rect x="808.23" y="195.3" width="4.9" height="6.60" fill="#1ea593"/>
<line x1="816.83" x2="816.83" y1="175.0" y2="200.1" stroke="#e2404f" stroke-width="1.1"/>
<rect x="814.38" y="194.95" width="4.9" height="1.00" fill="#f03549"/>
<line x1="822.98" x2="822.98" y1="154.5" y2="195.6" stroke="#2a9d8c" stroke-width="1.1"/>
<rect x="820.53" y="160.8" width="4.9" height="34.50" fill="#1ea593"/>
<line x1="829.14" x2="829.14" y1="121.9" y2="162.1" stroke="#2a9d8c" stroke-width="1.1"/>
<rect x="826.69" y="138.9" width="4.9" height="21.90" fill="#1ea593"/>
<line x1="835.29" x2="835.29" y1="129.1" y2="146.2" stroke="#2a9d8c" stroke-width="1.1"/>
<rect x="832.84" y="139.3" width="4.9" height="5.40" fill="#1ea593"/>
<line x1="841.44" x2="841.44" y1="135.5" y2="150.7" stroke="#e2404f" stroke-width="1.1"/>
<rect x="838.99" y="140.1" width="4.9" height="9.30" fill="#f03549"/>
<line x1="847.60" x2="847.60" y1="131.0" y2="149.8" stroke="#2a9d8c" stroke-width="1.1"/>
<rect x="845.15" y="132.9" width="4.9" height="16.50" fill="#1ea593"/>
<line x1="853.75" x2="853.75" y1="131.7" y2="139.9" stroke="#e2404f" stroke-width="1.1"/>
<rect x="851.30" y="132.9" width="4.9" height="6.40" fill="#f03549"/>
<path d="M828.6 121.9H835.6M838.2 121.9H845.2" stroke="#333" stroke-width="1.1" fill="none"/>
<path d="M435 308.2H441.6M444.4 308.2H451" stroke="#333" stroke-width="1.1" fill="none"/>
<polyline fill="none" stroke="#7d6ca6" stroke-width="1.5" stroke-linejoin="round" points="35.4,404.0 41.6,400.4 47.7,405.2 53.9,409.0 60.0,412.9 66.2,416.7 72.3,405.2 78.5,413.2 84.6,415.4 90.8,417.9 96.9,402.7 103.1,407.4 109.2,402.7 115.4,400.8 121.5,390.6 127.7,381.8 133.8,392.2 140.0,381.1 146.2,370.1 152.3,402.7 158.5,388.7 164.6,398.9 170.8,405.6 176.9,408.4 183.1,413.5 189.2,416.3 195.4,415.4 201.5,402.3 207.7,402.7 213.8,408.7 220.0,415.4 226.1,419.6 232.3,404.6 238.4,405.9 244.6,390.6 250.8,392.6 256.9,387.9 263.1,397.6 269.2,395.7 275.4,395.5 281.5,381.5 287.7,384.1 293.8,386.6 300.0,390.4 306.1,395.1 312.3,398.9 318.4,390.9 324.6,389.4 330.7,392.6 336.9,411.2 343.0,408.4 349.2,394.5 355.4,397.2 361.5,399.5 367.7,393.8 373.8,392.2 380.0,395.1 386.1,403.1 392.3,414.5 398.4,402.3 404.6,386.9 410.7,393.7 416.9,396.6 423.0,399.1 429.2,405.9 435.3,405.7 441.5,392.0 447.7,394.2 453.8,393.0 460.0,396.6 466.1,369.1 472.3,367.5 478.4,370.5 484.6,369.7 490.7,357.2 496.9,357.5 503.0,370.5 509.2,372.4 515.3,378.7 521.5,384.2 527.6,386.3 533.8,378.7 539.9,374.0 546.1,378.1 552.3,388.9 558.4,392.3 564.6,380.4 570.7,375.5 576.9,360.9 583.0,356.7 589.2,358.3 595.3,367.1 601.5,372.2 607.6,358.5 613.8,367.4 619.9,366.1 626.1,358.5 632.2,365.2 638.4,381.1 644.5,384.3 650.7,365.9 656.9,349.4 663.0,335.7 669.2,337.0 675.3,333.4 681.5,333.7 687.6,327.3 693.8,334.1 699.9,340.4 706.1,337.5 712.2,334.1 718.4,332.8 724.5,342.3 730.7,352.5 736.8,359.1 743.0,361.1 749.1,363.3 755.3,369.8 761.5,362.5 767.6,358.3 773.8,362.5 779.9,366.3 786.1,357.0 792.2,335.9 798.4,351.7 804.5,360.6 810.7,355.8 816.8,357.0 823.0,335.9 829.1,327.0 835.3,327.6 841.4,338.8 847.6,332.1 853.7,338.4"/>
</svg>

<div id="txt">
<div class="pill"></div>
<span class="t" id="sym" style="left:49.67px;transform:scaleX(1.1237);top:24.50px;font-size:18.3px;font-weight:bold;color:#15223d;">EURUSD+</span>
<span class="t" id="px" style="left:207.73px;transform:scaleX(0.9845);top:24.50px;font-size:18.3px;font-weight:bold;color:#15223d;">1.13523</span>
<span class="t" id="chg" style="left:277.39px;transform:scaleX(1.0372);top:24.50px;font-size:18.3px;font-weight:bold;color:#c41a3f;">-0.00453 (-0.40%)</span>
<span class="t" id="tm" style="left:451.65px;transform:scaleX(0.9316);top:25.60px;font-size:15.2px;color:#90959b;">09:17:33</span>

<svg style="position:absolute;left:786px;top:20.3px" width="26" height="26" viewBox="0 0 26 26">
 <circle cx="13" cy="12.9" r="9.6" fill="none" stroke="#2c3852" stroke-width="1.9"/>
 <path d="M8.2 15.2 L11.6 11.9 L14 14.2 L18 10.6" fill="none" stroke="#2c3852" stroke-width="1.9" stroke-linecap="round" stroke-linejoin="round"/>
</svg>
<svg style="position:absolute;left:846px;top:20.3px" width="28" height="26" viewBox="0 0 28 26">
 <path d="M9.2 3.6 H19.2 Q20.4 3.6 21 4.6 L25 11.8 Q25.6 12.9 25 14 L21 21.2 Q20.4 22.2 19.2 22.2 H9.2 Q8 22.2 7.4 21.2 L3.4 14 Q2.8 12.9 3.4 11.8 L7.4 4.6 Q8 3.6 9.2 3.6 Z" fill="none" stroke="#2c3852" stroke-width="2"/>
 <circle cx="14.2" cy="12.9" r="3.3" fill="none" stroke="#2c3852" stroke-width="2"/>
</svg>
<svg style="position:absolute;left:906px;top:20px" width="26" height="26" viewBox="0 0 26 26">
 <path d="M4 4 L23 23 M23 4 L4 23" stroke="#d4d5d7" stroke-width="1.4" fill="none"/>
</svg>

<span class="t tf" id="tf0" style="left:35.43px;transform:scaleX(1.1524);top:80.10px;">Tick Chart</span>
<span class="t tf" id="tf1" style="left:155.15px;transform:scaleX(1.0777);top:80.10px;">1m</span>
<span class="t tf" id="tf2" style="left:244.89px;transform:scaleX(1.2515);top:80.10px;">5m</span>
<span class="t tf" id="tf3" style="left:334.56px;transform:scaleX(1.0806);top:80.10px;">15m</span>
<span class="t tf" id="tf4" style="left:424.91px;transform:scaleX(1.2237);top:80.10px;">30m</span>
<span class="t tf" id="tf5" style="left:514.66px;transform:scaleX(1.0041);top:80.10px;">1h</span>
<span class="t tf" id="tf6" style="left:604.30px;transform:scaleX(1.2551);top:80.10px;">4h</span>
<div style="position:absolute;left:695px;top:73px;width:49px;height:29px;border-radius:15px;background:#3fb1a7;"></div>
<span class="t" id="tf7" style="left:706.15px;transform:scaleX(1.1627);top:80.00px;font-size:16.5px;color:#fff;-webkit-text-stroke:0.35px #fff;">1D</span>
<span class="t tf" id="tf8" style="left:787.15px;transform:scaleX(1.0722);top:80.10px;">1W</span>
<span class="t tf" id="tf9" style="left:877.24px;transform:scaleX(1.2065);top:80.10px;">MN</span>

<div class="ind" style="top:124px;"></div>
<span class="t" id="ma" style="left:60.35px;transform:scaleX(1.1233);top:134.10px;font-size:15.8px;font-weight:bold;color:#383b40;">MA</span>
<span class="t" id="map" style="left:90.78px;transform:scaleX(0.9451);top:136.00px;font-size:12.5px;color:#4a4d52;">(5,10,30)</span>
<svg style="position:absolute;left:184px;top:133px" width="12" height="16" viewBox="0 0 12 16"><path d="M3.6 3.6 L8.2 8 L3.6 12.4" fill="none" stroke="#2c3852" stroke-width="1.7" stroke-linecap="round" stroke-linejoin="round"/></svg>

<div class="ind" style="top:329.5px;"></div>
<span class="t" id="rsi" style="left:60.81px;transform:scaleX(1.0251);top:339.10px;font-size:15.8px;font-weight:bold;color:#383b40;">RSI</span>
<span class="t" id="rsip" style="left:90.80px;transform:scaleX(0.9020);top:341.10px;font-size:12.5px;color:#4a4d52;">(14)</span>
<svg style="position:absolute;left:184px;top:338.5px" width="12" height="16" viewBox="0 0 12 16"><path d="M3.6 3.6 L8.2 8 L3.6 12.4" fill="none" stroke="#2c3852" stroke-width="1.7" stroke-linecap="round" stroke-linejoin="round"/></svg>

<span class="t ax" id="p1" style="left:909.27px;transform:scaleX(1.0180);top:113.50px;">1.15000</span>
<span class="t ax" id="p2" style="left:909.27px;transform:scaleX(1.0180);top:182.80px;">1.10000</span>
<span class="t ax" id="p3" style="left:909.27px;transform:scaleX(1.0180);top:241.30px;">1.06000</span>
<span class="t ax" id="p4" style="left:909.27px;transform:scaleX(1.0180);top:285.00px;">1.03000</span>
<span class="t ax" id="r1" style="left:910.03px;transform:scaleX(0.9840);top:351.50px;">60.00</span>
<span class="t ax" id="r2" style="left:910.41px;transform:scaleX(0.9825);top:390.00px;">40.00</span>

<span class="t ax" id="d1" style="left:110.49px;transform:scaleX(1.0590);top:436.50px;">11/2024</span>
<span class="t ax" id="d2" style="left:239.71px;transform:scaleX(1.0487);top:436.50px;">12/2024</span>
<span class="t ax" id="d3" style="left:377.99px;transform:scaleX(1.0541);top:436.50px;font-weight:bold;color:#a9adb2;">2025</span>
<span class="t ax" id="d4" style="left:504.31px;transform:scaleX(1.0542);top:436.50px;">02/2025</span>
<span class="t ax" id="d5" style="left:626.68px;transform:scaleX(1.0648);top:436.50px;">03/2025</span>
<span class="t ax" id="d6" style="left:756.47px;transform:scaleX(1.0641);top:436.50px;">04/2025</span>
<span class="t ax" id="d7" style="left:849.60px;transform:scaleX(1.0673);top:436.50px;color:#b0b2b5;">19/04</span>

<span class="t" id="hi" style="left:846.48px;transform:scaleX(1.0074);top:115.60px;font-size:12px;color:#2e2e2e;letter-spacing:0.2px;">1.14735</span>
<span class="t" id="lo" style="left:452.30px;transform:scaleX(1.0042);top:302.60px;font-size:12px;color:#2e2e2e;letter-spacing:0.2px;">1.01779</span>

<!-- watermark -->
<svg style="position:absolute;left:42px;top:286px" width="26" height="26" viewBox="0 0 26 26">
 <g fill="#d9dce4" stroke="none">
  <ellipse cx="12.6" cy="13" rx="9.6" ry="2.5"/>
  <ellipse cx="12.6" cy="13" rx="9.6" ry="2.3" transform="rotate(55 12.6 13)"/>
  <ellipse cx="12.6" cy="13" rx="9.6" ry="2.3" transform="rotate(-55 12.6 13)"/>
  <circle cx="12.6" cy="2.2" r="1.3"/><circle cx="12.6" cy="23.8" r="1.3"/>
 </g>
</svg>
<span class="t" id="wm1" style="left:71.29px;transform:scaleX(1.0130);top:288.00px;font-size:11.5px;font-weight:bold;color:#d9dbe1;letter-spacing:5.3px;">STAR</span>
<span class="t" id="wm2" style="left:70.77px;transform:scaleX(1.0214);top:301.00px;font-size:10.5px;color:#e6e7eb;letter-spacing:0.6px;">TRADER</span>

<!-- faint side controls -->
<svg style="position:absolute;left:980px;top:90px" width="30" height="300" viewBox="0 0 30 300">
 <g fill="none" stroke="#f2f2f3" stroke-linecap="round" stroke-linejoin="round">
  <path d="M19.2 6.4 L8.4 16 L19.2 25.6" stroke-width="4.4"/>
  <path d="M19.2 6.4 L8.4 16 L19.2 25.6" stroke-width="1.8" stroke="#fff"/>
  <rect x="4.5" y="137.5" width="20" height="21" rx="5.5" stroke-width="1.6"/>
  <rect x="7.8" y="141" width="13.4" height="14" rx="3" stroke-width="1.4"/>
  <rect x="4.6" y="271" width="3.6" height="19.5" rx="1.8" stroke-width="1.2"/>
  <rect x="12.4" y="271" width="3.6" height="19.5" rx="1.8" stroke-width="1.2"/>
  <rect x="20.2" y="271" width="3.6" height="19.5" rx="1.8" stroke-width="1.2"/>
 </g>
</svg>
</div>
</body></html>
